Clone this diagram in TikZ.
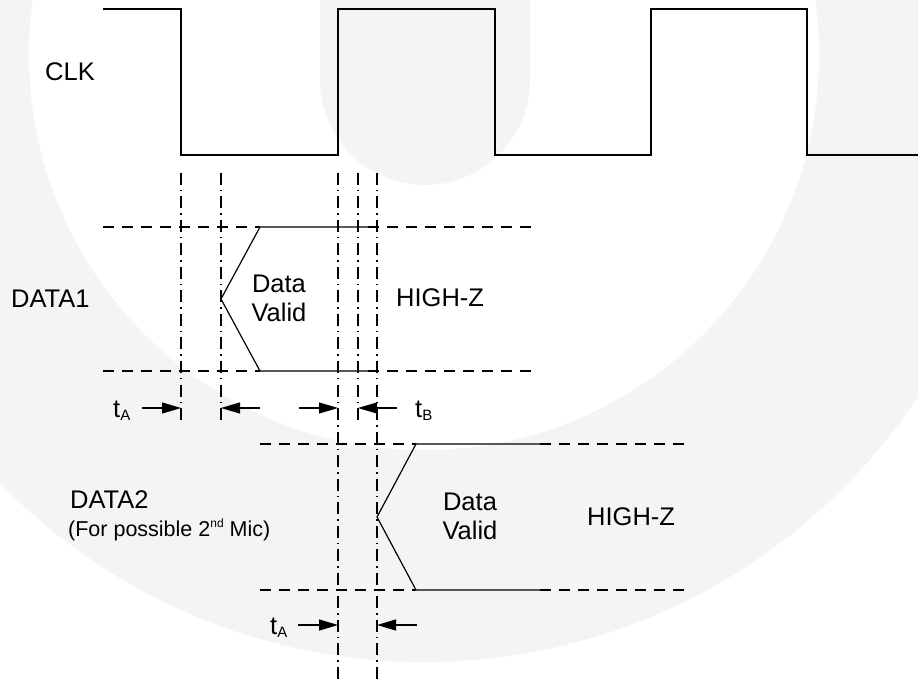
\documentclass[tikz,border=0pt]{standalone}
\usepackage{fontspec}
\setmainfont{Liberation Sans}
\usetikzlibrary{arrows.meta}
\definecolor{wmark}{RGB}{244,244,244}
\newcommand{\tsub}[1]{t\raisebox{-3pt}{\fontsize{15}{15}\selectfont #1}}

\begin{document}
\begin{tikzpicture}[x=1pt,y=-1pt,
  wave/.style={draw,line width=1.5pt},
  edge/.style={draw,line width=1.2pt},
  level/.style={draw,line width=1.2pt,dash pattern=on 11pt off 8pt},
  guide/.style={draw,line width=1.1pt,dash pattern=on 12pt off 5pt on 1.5pt off 5pt},
  timing/.style={draw,line width=1.2pt,-{Triangle[length=19pt,width=11pt]}},
  lbl/.style={font=\fontsize{25.5}{29}\selectfont,inner sep=0pt},
  note/.style={font=\fontsize{21.5}{24}\selectfont,inner sep=0pt}]

\useasboundingbox (0,0) rectangle (918,684);

\begin{scope}
\clip (0,0) rectangle (918,684);
\fill[wmark] (424,70) circle (592);
\fill[white] (424,55) circle (395);
\fill[wmark] (320,-10) -- (320,80) arc (180:0:105) -- (530,-10) -- cycle;
\end{scope}

\path[wave] (103,9) -| (181,155) -| (338,9) -| (495,155) -| (651,9) -| (807,155) -- (918,155);
\node[lbl,anchor=base west] (clk) at (45,81) {CLK};

\foreach \gx/\gy in {181/424,221/424,338/684,358/424,377/684}
  \path[guide] (\gx,173) -- (\gx,\gy);

% DATA1
\coordinate (d1l) at (221,299);
\coordinate (d1t) at (260,227);
\coordinate (d1b) at (260,371);
\coordinate (d1te) at (368,227);
\coordinate (d1be) at (368,371);
\path[level] (103,227) -- (d1t);
\path[level] (d1te) -- (535,227);
\path[level] (103,371) -- (d1b);
\path[level] (d1be) -- (535,371);
\path[edge] (d1te) -- (d1t) -- (d1l) -- (d1b) -- (d1be);

\node[lbl,anchor=base west] (dat1) at (11,308) {DATA1};
\node[lbl,align=center] (dv1) at (279,298) {Data\\Valid};
\node[lbl,anchor=base west] (hz1) at (396,307) {HIGH-Z};

\node[lbl,anchor=base west] (ta1) at (113,417) {\tsub{A}};
\node[lbl,anchor=base west] (tb1) at (415,417) {\tsub{B}};
\path[timing] (142,408) -- (181,408);
\path[timing] (260,408) -- (221,408);
\path[timing] (299,408) -- (338,408);
\path[timing] (397,408) -- (358,408);

% DATA2
\coordinate (d2l) at (377,517);
\coordinate (d2t) at (416,444);
\coordinate (d2b) at (416,590);
\coordinate (d2te) at (540,444);
\coordinate (d2be) at (540,590);
\path[level] (260,444) -- (d2t);
\path[level] (d2te) -- (690,444);
\path[level] (260,590) -- (d2b);
\path[level] (d2be) -- (690,590);
\path[edge] (d2te) -- (d2t) -- (d2l) -- (d2b) -- (d2be);

\node[lbl,anchor=base west] (dat2) at (70,508) {DATA2};
\node[note,anchor=base west] (dat2sub) at (68,536) {(For possible 2\raisebox{9pt}{\fontsize{12}{12}\selectfont nd} Mic)};
\node[lbl,align=center] (dv2) at (470,516) {Data\\Valid};
\node[lbl,anchor=base west] (hz2) at (587,525) {HIGH-Z};

\node[lbl,anchor=base west] (ta2) at (270,634) {\tsub{A}};
\path[timing] (298,625) -- (338,625);
\path[timing] (417,625) -- (377,625);
\end{tikzpicture}
\end{document}
